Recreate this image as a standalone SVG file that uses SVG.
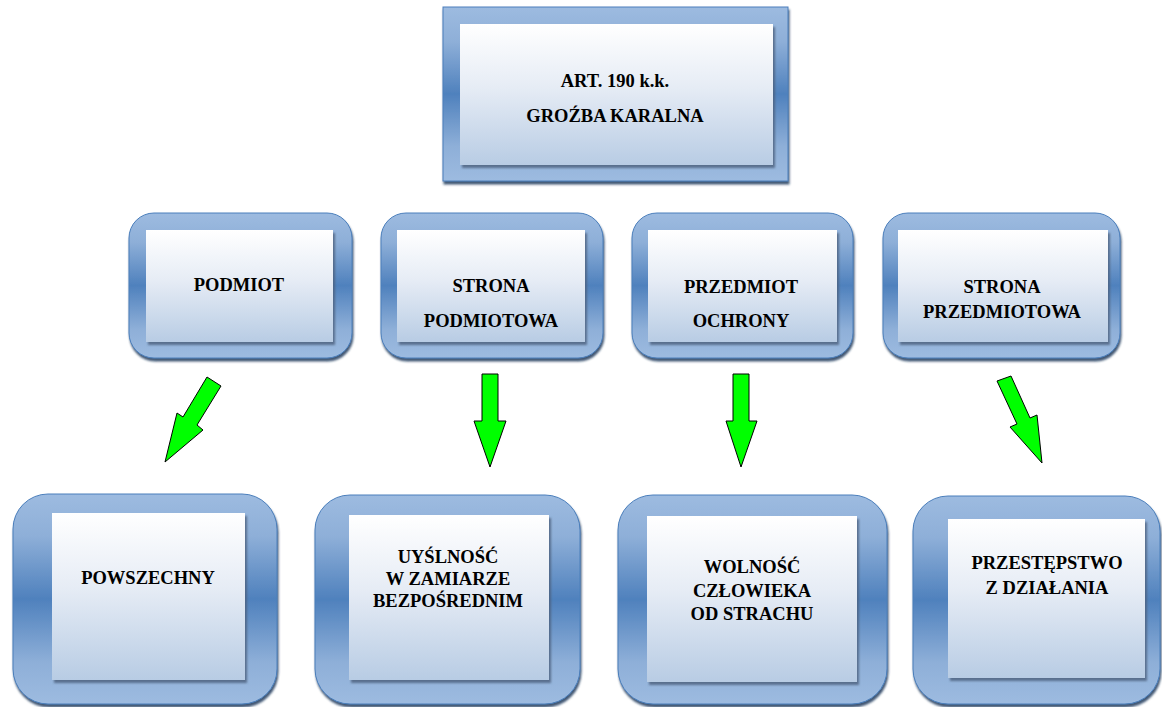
<svg xmlns="http://www.w3.org/2000/svg" width="1162" height="707" viewBox="0 0 1162 707">
<defs>
<linearGradient id="outerG" x1="0" y1="0" x2="0" y2="1">
<stop offset="0" stop-color="#9dbbe0"/>
<stop offset="0.2" stop-color="#8eafd8"/>
<stop offset="0.5" stop-color="#4f81bd"/>
<stop offset="0.8" stop-color="#8eafd8"/>
<stop offset="1" stop-color="#9dbbe0"/>
</linearGradient>
<linearGradient id="innerG" x1="0" y1="0" x2="0" y2="1">
<stop offset="0" stop-color="#ffffff"/>
<stop offset="0.45" stop-color="#e6ecf5"/>
<stop offset="1" stop-color="#b8cce4"/>
</linearGradient>
<filter id="shOuter" x="-5%" y="-5%" width="112%" height="115%">
<feDropShadow dx="1" dy="3" stdDeviation="1.2" flood-color="#1f3a5c" flood-opacity="0.85"/>
</filter>
<filter id="shInner" x="-5%" y="-5%" width="112%" height="115%">
<feDropShadow dx="2" dy="3" stdDeviation="1" flood-color="#4a5f7a" flood-opacity="0.8"/>
</filter>
</defs>
<style>
.outer{fill:url(#outerG);stroke:#4a7ebb;stroke-width:1;filter:url(#shOuter)}
.inner{fill:url(#innerG);filter:url(#shInner)}
.t{font-family:"Liberation Serif","Times New Roman",serif;font-weight:bold;font-size:18.5px;fill:#000;text-anchor:middle}
.arrow{fill:#00ff00;stroke:#000;stroke-width:1;stroke-linejoin:miter}
</style>
<rect width="1162" height="707" fill="#fff"/>

<g id="node-art190">
<rect class="outer" x="443" y="7" width="345" height="174"/>
<rect class="inner" x="460" y="24" width="313" height="141"/>
<text class="t" x="615" y="87">ART. 190 k.k.</text>
<text class="t" x="615" y="122">GROŹBA KARALNA</text>
</g>

<g id="node-podmiot">
<rect class="outer" x="129" y="213" width="223" height="145" rx="25"/>
<rect class="inner" x="146" y="230" width="187" height="112"/>
<text class="t" x="239" y="291">PODMIOT</text>
</g>

<g id="node-strona-podmiotowa">
<rect class="outer" x="381" y="213" width="222" height="145" rx="25"/>
<rect class="inner" x="397" y="230" width="188" height="112"/>
<text class="t" x="491" y="292">STRONA</text>
<text class="t" x="491" y="327">PODMIOTOWA</text>
</g>

<g id="node-przedmiot-ochrony">
<rect class="outer" x="632" y="213" width="221" height="145" rx="25"/>
<rect class="inner" x="648" y="230" width="189" height="112"/>
<text class="t" x="741" y="293">PRZEDMIOT</text>
<text class="t" x="741" y="327">OCHRONY</text>
</g>

<g id="node-strona-przedmiotowa">
<rect class="outer" x="883" y="213" width="237" height="145" rx="25"/>
<rect class="inner" x="898" y="230" width="210" height="112"/>
<text class="t" x="1002" y="293">STRONA</text>
<text class="t" x="1002" y="318">PRZEDMIOTOWA</text>
</g>

<g id="node-powszechny">
<rect class="outer" x="13" y="494" width="264" height="210" rx="35"/>
<rect class="inner" x="52" y="513" width="193" height="167"/>
<text class="t" x="148" y="584">POWSZECHNY</text>
</g>

<g id="node-umyslnosc">
<rect class="outer" x="315" y="495" width="265" height="209" rx="35"/>
<rect class="inner" x="349" y="515" width="200" height="165"/>
<text class="t" x="448" y="563">UYŚLNOŚĆ</text>
<text class="t" x="448" y="585">W ZAMIARZE</text>
<text class="t" x="448" y="607">BEZPOŚREDNIM</text>
</g>

<g id="node-wolnosc">
<rect class="outer" x="618" y="495" width="269" height="209" rx="35"/>
<rect class="inner" x="647" y="516" width="210" height="166"/>
<text class="t" x="752" y="573">WOLNOŚĆ</text>
<text class="t" x="752" y="597">CZŁOWIEKA</text>
<text class="t" x="752" y="620">OD STRACHU</text>
</g>

<g id="node-przestepstwo">
<rect class="outer" x="913" y="496" width="247" height="208" rx="35"/>
<rect class="inner" x="948" y="519" width="197" height="159"/>
<text class="t" x="1047" y="569">PRZESTĘPSTWO</text>
<text class="t" x="1047" y="594">Z DZIAŁANIA</text>
</g>

<g id="connectors">
<polygon class="arrow" points="207,377 221,386 197,425 203,430 165,462 177,413 183,417"/>
<polygon class="arrow" points="482,374 498,374 498,421 506,421 490,467 474,421 482,421"/>
<polygon class="arrow" points="733,374 749,374 749,421 757,421 741,467 726,421 733,421"/>
<polygon class="arrow" points="997,381 1011,376 1030,418 1037,415 1042,463 1010,427 1017,424"/>
</g>
</svg>
